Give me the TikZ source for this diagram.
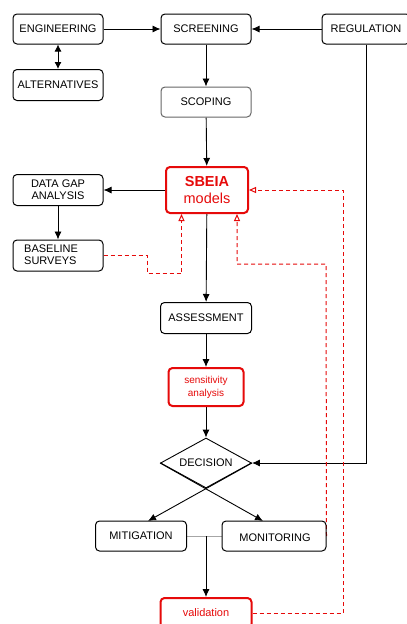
\documentclass[tikz,border=0pt]{standalone}
\usepackage{fontspec}
\setmainfont{Liberation Sans}
\usetikzlibrary{arrows.meta,shapes.geometric,backgrounds}
\definecolor{myred}{RGB}{230,10,10}
\begin{document}
\begin{tikzpicture}[x=1pt,y=-1pt,
 txt/.style={font=\fontsize{11}{12}\selectfont},
 box/.style={draw, rounded corners=4pt, line width=1pt, minimum width=90pt, minimum height=30pt, inner sep=0pt, txt, align=center},
 redbox/.style={box, draw=myred, line width=2pt, text=myred},
 arr/.style={line width=0.9pt, -{Latex[length=8pt,width=7pt]}},
 darr/.style={line width=0.9pt, {Latex[length=7pt,width=7pt]}-{Latex[length=7pt,width=7pt]}},
 rdash/.style={color=myred, line width=1pt, dash pattern=on 4pt off 3pt},
 ropen/.style={rdash, -{Triangle[open,length=7pt,width=6pt]}},
]
\useasboundingbox (0,0) rectangle (407,624);
% nodes
\node[box] (eng) at (58,29) {ENGINEERING};
\node[box] (scr) at (206,29) {SCREENING};
\node[box, minimum width=88pt] (reg) at (366,29) {REGULATION};
\node[box, minimum height=31pt] (alt) at (58,85) {ALTERNATIVES};
\node[box, draw=black!60] (scop) at (206,102) {SCOPING};
\node[redbox, minimum width=82pt, minimum height=46pt, font=\fontsize{14.5}{17}\selectfont] (sbeia) at (207,190)
  {\textbf{SBEIA}\\models};
\node[box, minimum height=31pt, font=\fontsize{11}{12}\selectfont] (dga) at (58,190) {DATA GAP\\ANALYSIS};
\node[box, minimum height=31pt] (base) at (58,255.5) {};
\node[anchor=west, align=left, inner sep=0pt, font=\fontsize{11}{12}\selectfont] (basetxt) at (24,255) {BASELINE\\SURVEYS};
\node[box, minimum width=91pt, minimum height=31pt] (assess) at (206,318) {ASSESSMENT};
\node[redbox, minimum width=75pt, minimum height=38pt, font=\fontsize{10}{13}\selectfont] (sens) at (206,387) {sensitivity\\analysis};
\node[draw, diamond, line width=0.9pt, minimum width=91pt, minimum height=50pt, inner sep=0pt, aspect=1.82, txt] (dec) at (206,463) {DECISION};
\node[box, minimum width=91pt] (mit) at (141,536) {MITIGATION};
\node[box, minimum width=104pt] (mon) at (274,536) {};
\node[inner sep=0pt, txt] (montxt) at (275,538) {MONITORING};
\node[redbox, minimum width=91pt, minimum height=30pt] (val) at (206,613) {validation};
% coordinates
\coordinate (mitin) at (148,521);
\coordinate (monin) at (263,521);
\coordinate (merge) at (206,536);
\coordinate (d1) at (147.5,273.5);
\coordinate (d2) at (181.5,273.5);
\coordinate (d3) at (237,264);
\coordinate (d4) at (326,264);
\coordinate (d5) at (343,613);
\coordinate (d6) at (343,190);
\begin{scope}[on background layer]
\fill[white] (0,0) rectangle (407,624);
\draw[arr] (eng) -- (scr);
\draw[arr] (reg) -- (scr);
\draw[darr] (eng) -- (alt);
\draw[arr] (scr) -- (scop);
\draw[arr] (scop) -- (sbeia);
\draw[arr] (sbeia) -- (dga);
\draw[arr] (dga) -- (base);
\draw[arr] (sbeia) -- (assess);
\draw[arr] (assess) -- (sens);
\draw[arr] (sens) -- (dec);
\draw[arr] (reg.south) |- (dec.east);
\draw[arr] (dec.west) -- (monin);
\draw[arr] (dec.east) -- (mitin);
\draw[gray!70, line width=0.6pt] (mit.east) -- (mon.west);
\draw[arr] (merge) -- (val);
\draw[ropen] (base.east) -| (d1) -- (d2) -- (d2 |- sbeia.south);
\draw[ropen] (mon.east) -- (d4) -- (d3) -- (d3 |- sbeia.south);
\draw[ropen] (val.east) -- (d5) -- (d6) -- (sbeia.east);
\end{scope}
\end{tikzpicture}
\end{document}
